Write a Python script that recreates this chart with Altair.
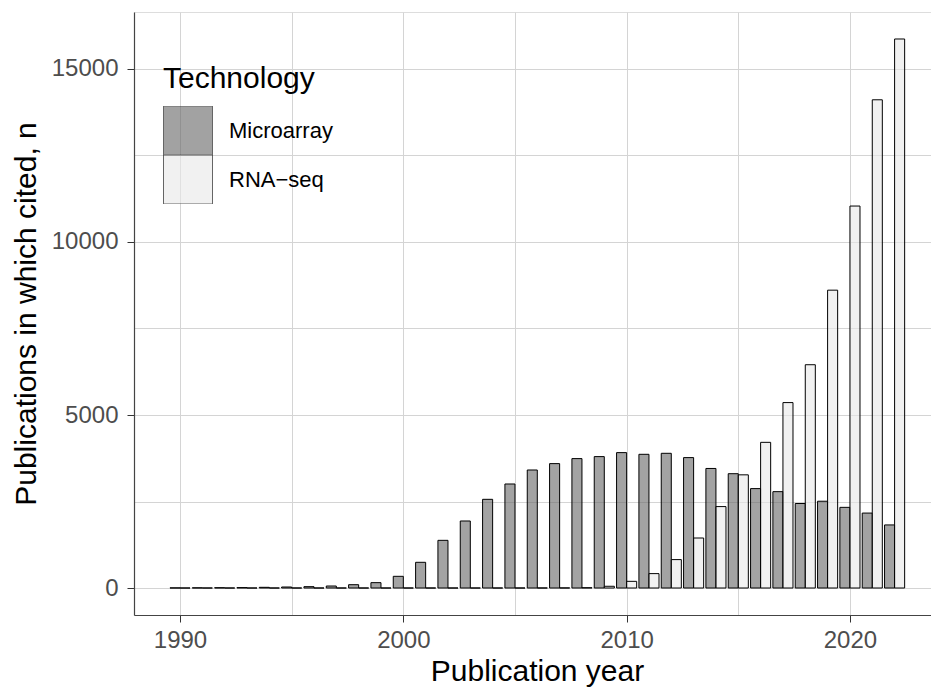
import altair as alt
import pandas as pd

# Publications per year citing each technology
years = list(range(1990, 2023))
microarray = [3, 5, 8, 12, 20, 29, 39, 58, 96, 155, 338, 743, 1378, 1937, 2563,
              3006, 3411, 3595, 3740, 3798, 3913, 3864, 3893, 3769, 3455, 3304,
              2873, 2785, 2442, 2508, 2331, 2166, 1823]
rnaseq = [0, 0, 0, 0, 0, 0, 0, 0, 0, 0, 0, 0, 0, 0, 0,
          0, 1, 3, 8, 50, 193, 416, 821, 1445, 2353, 3271,
          4210, 5359, 6453, 8608, 11039, 14110, 15867]
technologies = ["Microarray", "RNA\u2212seq"]
fills = ["#666666", "#e8e8e8"]

x_ticks = [1990, 1995, 2000, 2005, 2010, 2015, 2020]
y_ticks = [0, 2500, 5000, 7500, 10000, 12500, 15000]

df = pd.DataFrame({
    "Year": years * 2,
    "Technology": [technologies[0]] * len(years) + [technologies[1]] * len(years),
    "n": microarray + rnaseq,
})

FONT = "Liberation Sans"

bars = (
    alt.Chart(df)
    .transform_calculate(
        x0="datum.Year - (datum.Technology == 'Microarray' ? 0.45 : 0)",
        x1="datum.Year + (datum.Technology == 'Microarray' ? 0 : 0.45)",
    )
    .mark_bar(stroke="black", strokeWidth=1, fillOpacity=0.6)
    .encode(
        x=alt.X(
            "x0:Q",
            scale=alt.Scale(domain=[1987.94, 2023.63], nice=False, zero=False),
            axis=alt.Axis(
                title="Publication year",
                values=x_ticks,
                format="d",
                labelExpr="datum.value % 10 === 0 ? datum.label : ''",
                tickOpacity={"condition": {"test": "datum.value % 10 === 0", "value": 1}, "value": 0},
                grid=True,
                gridColor="#d4d4d4",
                gridWidth=1,
                tickSize=7,
                tickColor="#333333",
                domainColor="#444444",
                domainWidth=1.2,
                labelFont=FONT,
                labelFontSize=24,
                labelColor="#4d4d4d",
                labelPadding=6,
                titleFont=FONT,
                titleFontSize=30,
                titleFontWeight="normal",
                titleColor="black",
                titleX=403,
                titleY=65,
                titleBaseline="alphabetic",
                titleAlign="center",
            ),
        ),
        x2="x1:Q",
        y=alt.Y(
            "n:Q",
            scale=alt.Scale(domain=[-780, 16647], nice=False, zero=False),
            axis=alt.Axis(
                title="Publications in which cited, n",
                values=y_ticks,
                format="d",
                labelExpr="datum.value % 5000 === 0 ? datum.label : ''",
                tickOpacity={"condition": {"test": "datum.value % 5000 === 0", "value": 1}, "value": 0},
                grid=True,
                gridColor="#d4d4d4",
                gridWidth=1,
                tickSize=7,
                tickColor="#333333",
                domainColor="#444444",
                domainWidth=1.2,
                labelFont=FONT,
                labelFontSize=24,
                labelColor="#4d4d4d",
                labelPadding=9,
                titleFont=FONT,
                titleFontSize=30,
                titleFontWeight="normal",
                titleColor="black",
                titleX=-99,
                titleY=301.5,
                titleBaseline="alphabetic",
                titleAlign="center",
                titleAngle=270,
            ),
        ),
        y2=alt.Y2(datum=0),
        fill=alt.Fill(
            "Technology:N",
            scale=alt.Scale(domain=technologies, range=fills),
            legend=alt.Legend(
                title="Technology",
                orient="none",
                legendX=29,
                legendY=52,
                padding=0,
                symbolType="square",
                symbolSize=2401,
                symbolStrokeColor="black",
                symbolStrokeWidth=1,
                symbolOpacity=0.6,
                rowPadding=0,
                clipHeight=49,
                labelOffset=16,
                labelFont=FONT,
                labelFontSize=22,
                labelColor="black",
                titleFont=FONT,
                titleFontSize=30,
                titleFontWeight="normal",
                titleColor="black",
                titlePadding=12,
            ),
        ),
    )
)

chart = (
    bars.properties(
        width=797,
        height=603,
        autosize=alt.AutoSizeParams(type="none"),
        padding={"left": 134, "top": 12, "right": 0, "bottom": 78},
    )
    .configure_view(stroke=None)
    .configure(background="white")
)

chart.save("out.html", embed_options={"renderer": "svg", "actions": False})
